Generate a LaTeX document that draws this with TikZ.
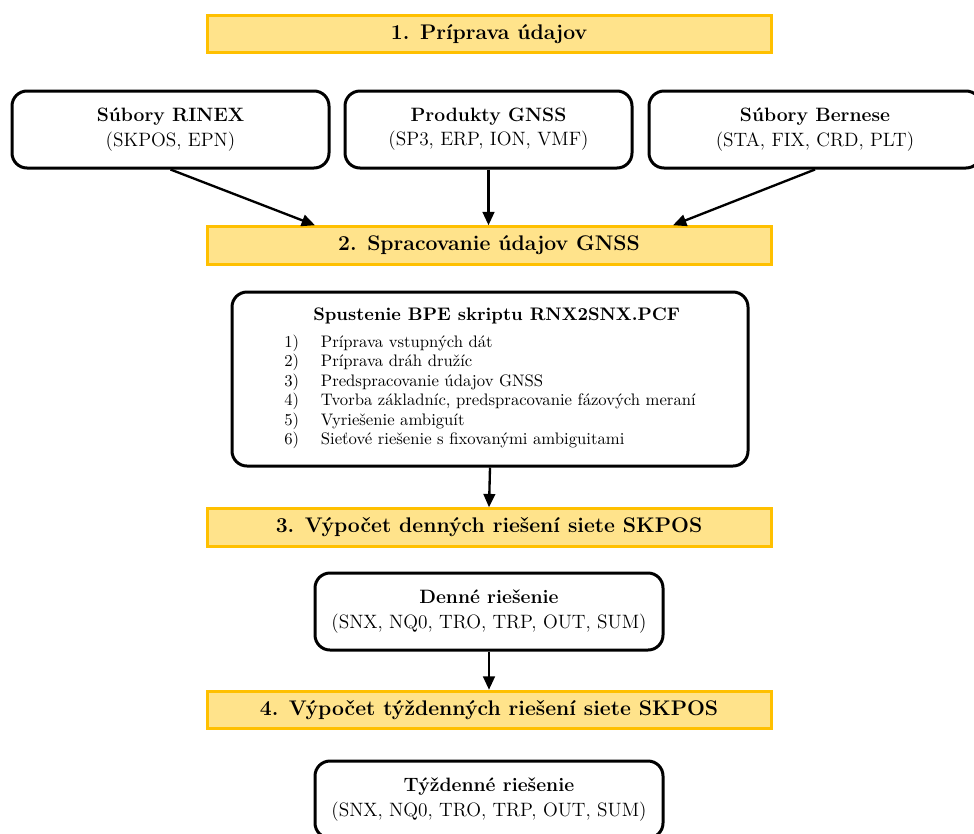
\documentclass[tikz,border=0pt]{standalone}
\usetikzlibrary{arrows.meta,calc}
\definecolor{bannerfill}{HTML}{FFE38B}
\definecolor{bannerdraw}{HTML}{FFC000}
\tikzset{
  banner/.style={draw=bannerdraw, fill=bannerfill, line width=1.8pt, inner sep=0pt,
    minimum width=338.4pt, minimum height=22.5pt, font=\fontsize{12.7}{15}\selectfont\bfseries},
  filebox/.style={draw=black, line width=1.8pt, rounded corners=9pt, inner sep=0pt,
    minimum height=46.2pt, align=center, font=\fontsize{11.6}{14.6}\selectfont},
  conn/.style={line width=1.4pt, -{Triangle[length=8pt,width=7pt]}}
}
\begin{document}
\begin{tikzpicture}[x=0.6pt,y=-0.6pt]
\useasboundingbox (0,0) rectangle (974,833);
\node[banner] (b1) at (489,34) {1. Príprava údajov};
\node[filebox, minimum width=190.2pt] (rinex) at (170.5,129.5) {\textbf{Súbory RINEX}\\(SKPOS, EPN)};
\node[filebox, minimum width=172.2pt] (gnss) at (488.5,129.5) {\textbf{Produkty GNSS}\\(SP3, ERP, ION, VMF)};
\node[filebox, minimum width=199.2pt] (bern) at (815,129.5) {\textbf{Súbory Bernese}\\(STA, FIX, CRD, PLT)};
\node[banner] (b2) at (489,245.5) {2. Spracovanie údajov GNSS};
\node[filebox, minimum width=309.6pt, minimum height=104.4pt] (bpe) at (490,379)
  {\hspace*{8pt}{\fontsize{10.9}{13}\selectfont\textbf{Spustenie BPE skriptu RNX2SNX.PCF}}\\[5pt]
   {\fontsize{10}{11.7}\selectfont
   \begin{tabular}{@{}l@{}l@{}}
   \makebox[22pt][l]{1)} & Príprava vstupných dát\\
   \makebox[22pt][l]{2)} & Príprava dráh družíc\\
   \makebox[22pt][l]{3)} & Predspracovanie údajov GNSS\\
   \makebox[22pt][l]{4)} & Tvorba základníc, predspracovanie fázových meraní\\
   \makebox[22pt][l]{5)} & Vyriešenie ambiguít\\
   \makebox[22pt][l]{6)} & Sieťové riešenie s fixovanými ambiguitami
   \end{tabular}}};
\node[banner] (b3) at (489,527.5) {3. Výpočet denných riešení siete SKPOS};
\node[filebox, minimum width=208.8pt] (den) at (489,611.5) {\textbf{Denné riešenie}\\(SNX, NQ0, TRO, TRP, OUT, SUM)};
\node[banner] (b4) at (489,710) {4. Výpočet týždenných riešení siete SKPOS};
\node[filebox, minimum width=208.8pt] (tyz) at (489,799.5) {\textbf{Týždenné riešenie}\\(SNX, NQ0, TRO, TRP, OUT, SUM)};
\draw[conn] (rinex.south) -- ($(b2.north)+(-174,0)$);
\draw[conn] (gnss.south) -- (gnss.south |- b2.north);
\draw[conn] (bern.south) -- ($(b2.north)+(184,0)$);
\draw[conn] (bpe.south) -- (b3.north);
\draw[conn] (den.south) -- (b4.north);
\end{tikzpicture}
\end{document}
